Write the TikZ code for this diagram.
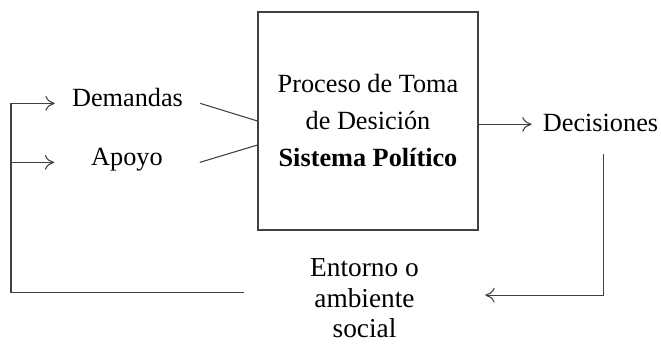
\documentclass[tikz,border=0pt]{standalone}
\usepackage{fontspec}
\setmainfont{Liberation Serif}
\usetikzlibrary{arrows.meta}

\begin{document}
\begin{tikzpicture}[x=0.75pt, y=-0.75pt,
  lbl/.style={inner sep=0pt, text height=0.65em, text depth=0.15em, font=\fontsize{19.7pt}{27.75pt}\selectfont},
  arr/.style={-{To[length=7pt,width=11pt]}, draw=black!75, line width=0.8pt},
  ln/.style={draw=black!75, line width=0.8pt}]
\useasboundingbox (0,0) rectangle (661,345);

% System box
\node[draw=black!75, line width=0.8pt, minimum width=165pt, minimum height=163.5pt, align=center,
  font=\fontsize{19.7pt}{27.75pt}\selectfont] (sys) at (368,121)
  {Proceso de Toma\\de Desición\\\textbf{Sistema Político}};

% Inputs
\node[lbl, minimum width=108.75pt] (dem) at (127.5,103.4) {Demandas};
\node[lbl, minimum width=108.75pt] (apo) at (127,162.4) {Apoyo};

% Output
\node[lbl, inner xsep=8.25pt] (dec) at (600.5,128.4) {Decisiones};

% Environment
\node[inner sep=0pt, minimum width=180.75pt, align=center,
  font=\fontsize{20.5pt}{23pt}\selectfont] (ent) at (364.5,298.5) {Entorno o\\ambiente\\social};

\coordinate (loop) at (11,0);

% Arrows
\draw[ln] (dem.east) -- (sys.west);
\draw[ln] (apo.east) -- ([yshift=-18pt]sys.west);

\draw[arr] ([yshift=-2.5pt]sys.east) -- ([yshift=-2.5pt]sys.east -| dec.west);

\draw[arr] ([xshift=2pt,yshift=-15pt]dec.south) |- ([yshift=2.5pt]ent.east);
\draw[arr] ([yshift=4.5pt]ent.west) -| (loop |- dem.west) -- (dem.west);
\draw[arr] (loop |- apo.west) -- (apo.west);
\end{tikzpicture}
\end{document}
